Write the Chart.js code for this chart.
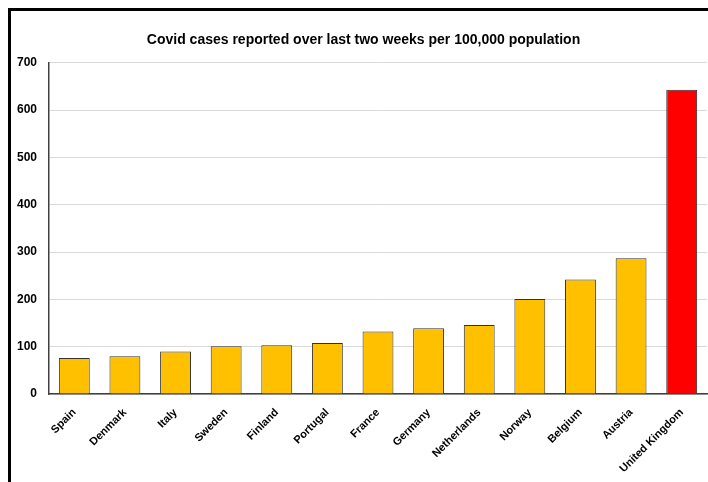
<!DOCTYPE html>
<html>
<head>
<meta charset="utf-8">
<script src="https://cdn.jsdelivr.net/npm/chart.js@4"></script>
<style>
  html, body { margin: 0; padding: 0; background: #fff; }
  #wrap { position: relative; width: 708px; height: 482px; }
  #frame {
    position: absolute; left: 8px; top: 8px; right: -10px; bottom: -10px;
    border-left: 3px solid #000; border-top: 3px solid #000;
    pointer-events: none;
  }
</style>
</head>
<body>
<div id="wrap">
  <canvas id="chart" width="708" height="482"></canvas>
  <div id="frame"></div>
</div>
<script>
const countries = [
  "Spain", "Denmark", "Italy", "Sweden", "Finland", "Portugal", "France",
  "Germany", "Netherlands", "Norway", "Belgium", "Austria", "United Kingdom",
];
const casesPer100k = [76, 80, 90, 101, 103, 108, 132, 139, 146, 201, 242, 287, 643];
const highlight = "United Kingdom";

const font = "'Liberation Sans', Arial, sans-serif";
const barColors = countries.map((c) => (c === highlight ? "#ff0000" : "#ffc000"));

// the title in the source sits a little right of the canvas centre
const shiftTitle = {
  id: "shiftTitle",
  afterLayout(chart) {
    if (chart.titleBlock) chart.titleBlock.left += 20;
  },
};

new Chart(document.getElementById("chart"), {
  type: "bar",
  data: {
    labels: countries,
    datasets: [
      {
        data: casesPer100k,
        backgroundColor: barColors,
        borderColor: "#333333",
        borderWidth: 1,
        barPercentage: 0.61,
        categoryPercentage: 1,
      },
    ],
  },
  options: {
    responsive: false,
    animation: false,
    layout: { padding: { left: 0, right: 1, top: 0, bottom: 0 } },
    plugins: {
      legend: { display: false },
      tooltip: { enabled: false },
      title: {
        display: true,
        text: "Covid cases reported over last two weeks per 100,000 population",
        color: "#000",
        font: { family: font, size: 14, weight: "bold" },
        padding: { top: 32, bottom: 14 },
      },
    },
    scales: {
      x: {
        grid: { display: false },
        border: { color: "#404040", width: 1.5 },
        ticks: {
          color: "#000",
          font: { family: font, size: 11, weight: "bold" },
          minRotation: 45,
          maxRotation: 45,
          padding: 4,
          autoSkip: false,
        },
        afterFit: (scale) => { scale.height = 88; },
      },
      y: {
        min: 0,
        max: 700,
        grid: { color: "#d9d9d9", drawTicks: false },
        border: { color: "#404040", width: 1.5 },
        ticks: {
          stepSize: 100,
          color: "#000",
          font: { family: font, size: 12, weight: "bold" },
          padding: 12,
        },
        afterFit: (scale) => { scale.width = 49; },
      },
    },
  },
  plugins: [shiftTitle],
});
</script>
</body>
</html>
